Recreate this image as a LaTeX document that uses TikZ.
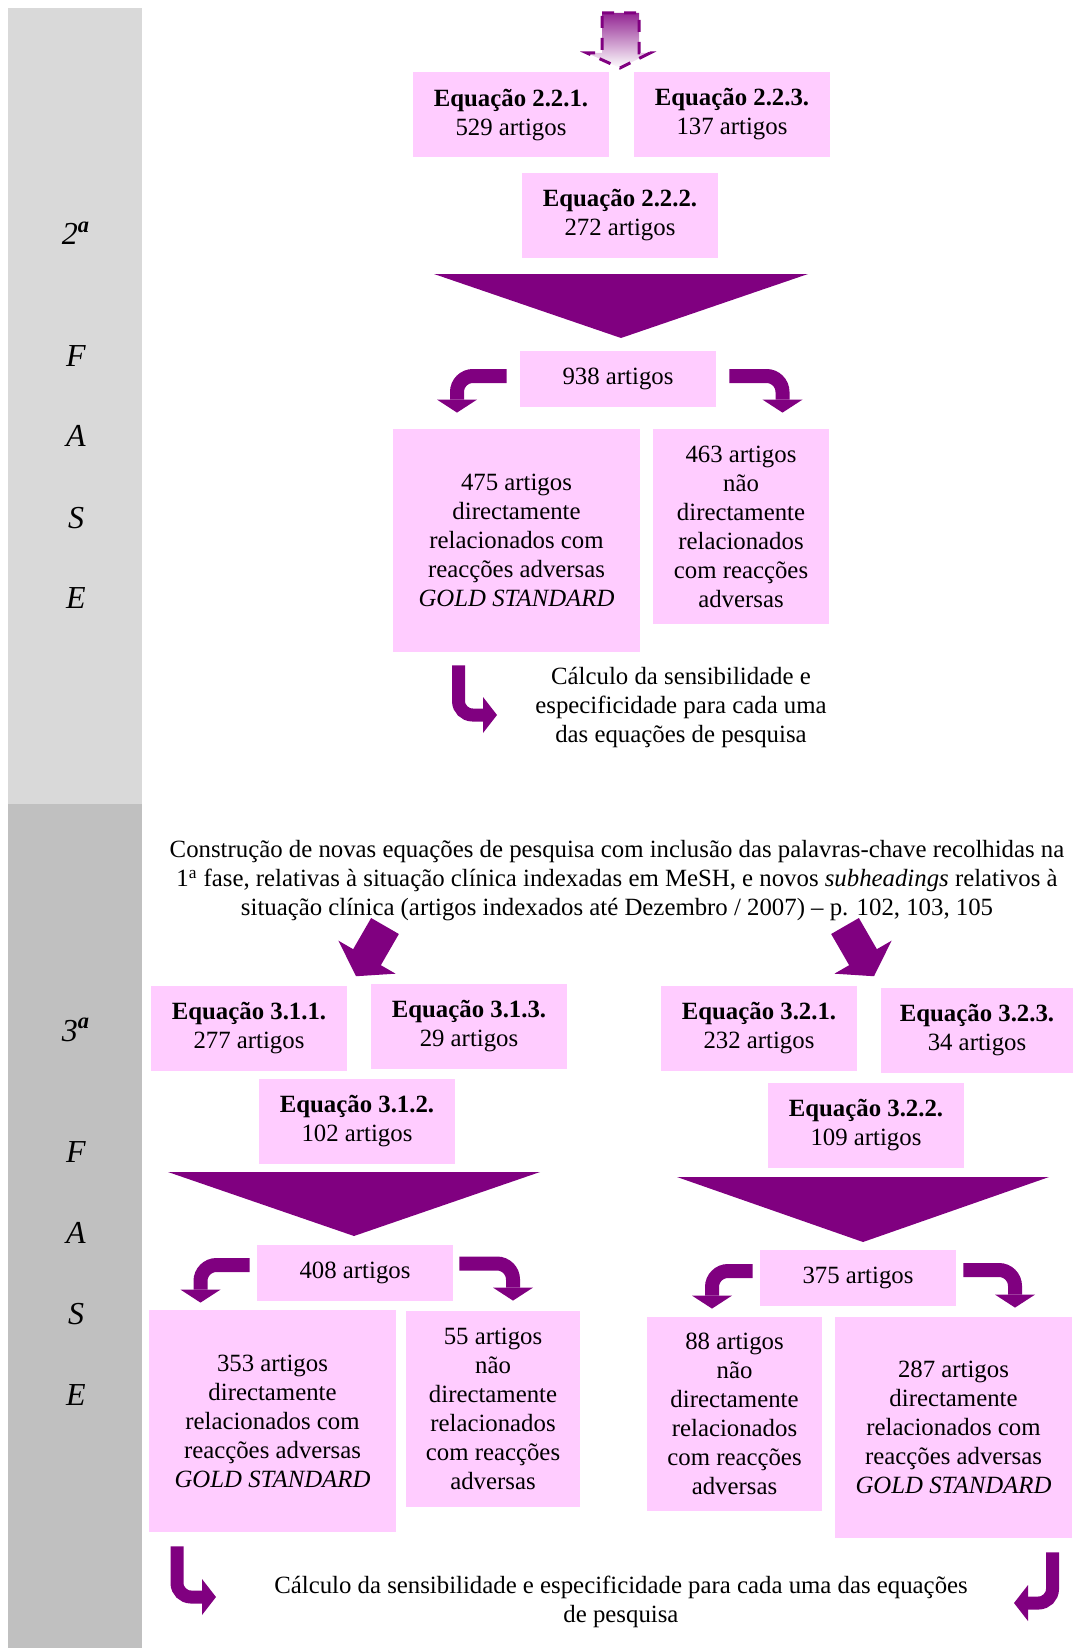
\documentclass[tikz,border=0pt]{standalone}
\usepackage{fontspec}
\setmainfont{Liberation Serif}
\usetikzlibrary{arrows.meta, positioning, calc}
\definecolor{cpink}{HTML}{FFCCFF}
\definecolor{cpurple}{HTML}{800080}
\definecolor{cband}{HTML}{D9D9D9}
\definecolor{cbanddark}{HTML}{C0C0C0}
\tikzset{
  pinkbox/.style={fill=cpink, align=center, inner sep=0pt, font=\fontsize{12.4}{14.5}\selectfont},
  eqbox/.style={pinkbox, minimum width=98pt, minimum height=42.5pt},
  countbox/.style={pinkbox, minimum width=98pt, minimum height=28pt},
  bent/.style={draw=cpurple, line width=7pt, rounded corners=8pt, -{Triangle[width=20pt, length=6.5pt, line width=0pt]}},
  hook/.style={draw=cpurple, line width=6.5pt, rounded corners=7pt, -{Triangle[width=18pt, length=7pt, line width=0pt]}},
  funnel/.style={fill=cpurple},
  phase/.style={font=\fontsize{16}{19}\selectfont\itshape},
  note/.style={align=center, font=\fontsize{12.4}{14.5}\selectfont},
  slantarrow/.pic={\fill[cpurple] (-16,0) -- (16,0) -- (16,36) -- (33,36) -- (0,58) -- (-33,36) -- (-16,36) -- cycle;},
}

\begin{document}
\begin{tikzpicture}[x=0.5pt, y=-0.5pt]
  \useasboundingbox (0,0) rectangle (1073,1648);
  % phase band
  \fill[cband] (8,8) rectangle (142,804);
  \fill[cbanddark] (8,804) rectangle (142,1648);
  \node[phase] (f2) at (76,233) {2\textsuperscript{\textbf{a}}};
  \foreach \l/\y in {F/356, A/436, S/518, E/598}
    \node[phase] (f2\l) at (76,\y) {\l};
  \node[phase] (f3) at (76,1030) {3\textsuperscript{\textbf{a}}};
  \foreach \l/\y in {F/1152, A/1233, S/1314, E/1395}
    \node[phase] (f3\l) at (76,\y) {\l};

  % 2a fase
  \shade[top color=cpurple!85, bottom color=white] (602,13) -- (639,13) -- (639,53) -- (650,53) -- (620,68) -- (587,53) -- (602,53) -- cycle;
  \draw[cpurple, line width=1.5pt, dash pattern=on 6pt off 5pt] (602,13) -- (639,13) -- (639,53) -- (650,53) -- (620,68) -- (587,53) -- (602,53) -- cycle;
  \node[eqbox] (e221) at (511,115) {\textbf{Equação 2.2.1.}\\529 artigos};
  \node[eqbox] (e223) at (732,114.5) {\textbf{Equação 2.2.3.}\\137 artigos};
  \node[eqbox] (e222) at (620,215.5) {\textbf{Equação 2.2.2.}\\272 artigos};
  \fill[funnel] (434,274) -- (808,274) -- (621,338) -- cycle;
  \node[countbox] (n938) at (618,379) {938 artigos};
  \node[pinkbox, minimum width=123.5pt, minimum height=111.5pt] (n475) at (516.5,540.5)
    {475 artigos\\directamente\\relacionados com\\reacções adversas\\\textit{GOLD STANDARD}};
  \node[pinkbox, minimum width=88pt, minimum height=97.5pt] (n463) at (741,526.5)
    {463 artigos\\não\\directamente\\relacionados\\com reacções\\adversas};
  \draw[bent] ([shift={(-13,-3)}]n938.west) -| ([shift={(-59.5,-16)}]n475.north);
  \draw[bent] ([shift={(13,-3)}]n938.east) -| ([shift={(41.5,-16)}]n463.north);
  \node[note] (calc2) at (681,708) {Cálculo da sensibilidade e\\especificidade para cada uma\\das equações de pesquisa};
  \draw[hook] ([shift={(-58,13)}]n475.south) |- (497,715);

  % 3a fase
  \node[note] (intro) at (617,881) {Construção de novas equações de pesquisa com inclusão das palavras-chave recolhidas na\\
    1\textsuperscript{a} fase, relativas à situação clínica indexadas em MeSH, e novos \textit{subheadings} relativos à\\
    situação clínica (artigos indexados até Dezembro / 2007) – p. 102, 103, 105};
  \pic[rotate=-30] at (385,926) {slantarrow};
  \pic[rotate=30] at (845,926) {slantarrow};

  \node[eqbox] (e311) at (249,1028.5) {\textbf{Equação 3.1.1.}\\277 artigos};
  \node[eqbox] (e313) at (469,1026.5) {\textbf{Equação 3.1.3.}\\29 artigos};
  \node[eqbox] (e312) at (357,1121) {\textbf{Equação 3.1.2.}\\102 artigos};
  \fill[funnel] (168,1172) -- (540,1172) -- (354,1236) -- cycle;
  \node[countbox] (n408) at (355,1272.5) {408 artigos};
  \node[pinkbox, minimum width=123.5pt, minimum height=111pt] (n353) at (272.5,1421)
    {353 artigos\\directamente\\relacionados com\\reacções adversas\\\textit{GOLD STANDARD}};
  \node[pinkbox, minimum width=87pt, minimum height=98pt] (n55) at (493,1409)
    {55 artigos\\não\\directamente\\relacionados\\com reacções\\adversas};
  \draw[bent] ([shift={(-7,-7.5)}]n408.west) -| ([shift={(-72,-7)}]n353.north);
  \draw[bent] ([shift={(6,-9)}]n408.east) -| ([shift={(20,-10)}]n55.north);

  \node[eqbox] (e321) at (759,1028.5) {\textbf{Equação 3.2.1.}\\232 artigos};
  \node[eqbox, minimum width=96pt] (e323) at (977,1030.5) {\textbf{Equação 3.2.3.}\\34 artigos};
  \node[eqbox] (e322) at (866,1125.5) {\textbf{Equação 3.2.2.}\\109 artigos};
  \fill[funnel] (677,1177) -- (1049,1177) -- (863,1242) -- cycle;
  \node[countbox] (n375) at (858,1278) {375 artigos};
  \node[pinkbox, minimum width=87.5pt, minimum height=97pt] (n88) at (734.5,1414)
    {88 artigos\\não\\directamente\\relacionados\\com reacções\\adversas};
  \node[pinkbox, minimum width=118.5pt, minimum height=110.5pt] (n287) at (953.5,1427.5)
    {287 artigos\\directamente\\relacionados com\\reacções adversas\\\textit{GOLD STANDARD}};
  \draw[bent] ([shift={(-7,-7)}]n375.west) -| ([shift={(-22.5,-8)}]n88.north);
  \draw[bent] ([shift={(7,-8)}]n375.east) -| ([shift={(61.5,-9)}]n287.north);

  \node[note] (calc3) at (621,1602) {Cálculo da sensibilidade e especificidade para cada uma das equações\\de pesquisa};
  \draw[hook] ([shift={(-95.5,14)}]n353.south) |- (216,1597);
  \draw[hook] ([shift={(99,14)}]n287.south) |- (1014,1603);
\end{tikzpicture}
\end{document}
